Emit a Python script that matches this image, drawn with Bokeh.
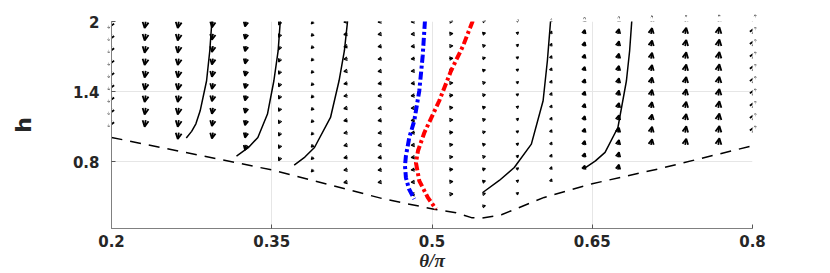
import math
from bokeh.plotting import figure
from bokeh.models import (Arrow, OpenHead, ColumnDataSource, Range1d, FixedTicker)
from bokeh.embed import file_html
from bokeh.resources import INLINE

# ---------------- data ----------------
x_ticks = [0.2, 0.35, 0.5, 0.65, 0.8]
x_tick_labels = ["0.2", "0.35", "0.5", "0.65", "0.8"]
y_ticks = [0.8, 1.4, 2.0]
y_tick_labels = ["0.8", "1.4", "2"]

# quiver grid
theta_cols = [0.200, 0.232, 0.263, 0.295, 0.326, 0.358, 0.389, 0.421, 0.453, 0.484,
              0.516, 0.547, 0.579, 0.611, 0.642, 0.674, 0.705, 0.737, 0.768, 0.800]
h_rows = [2.000, 1.894, 1.789, 1.683, 1.578, 1.472, 1.367, 1.261, 1.156, 1.050,
          0.944, 0.839, 0.733, 0.628, 0.522, 0.417]
lowest_row = [8, 8, 9, 9, 10, 11, 12, 13, 13, 14, 14, 15, 14, 13, 12, 12, 10, 10, 10, 9]
u_cols = [-0.003, -0.001, -0.001, -0.001, -0.001, -0.0015, -0.002, -0.0035, -0.0035, -0.0035,
          0.0035, 0.003, 0.002, 0.001, 0.001, 0.001, 0.001, 0.001, 0.001, 0.003]
v_cols = [-0.056, -0.056, -0.056, -0.050, -0.043, -0.030, -0.020, -0.006, -0.005, -0.003,
          0.003, 0.008, 0.015, 0.024, 0.034, 0.042, 0.049, 0.053, 0.056, 0.056]

# black solid trajectories
traj1_x = [0.270, 0.275, 0.279, 0.283, 0.289, 0.292, 0.294]
traj1_h = [1.003, 1.060, 1.125, 1.236, 1.493, 1.750, 2.006]
traj2_x = [0.317, 0.328, 0.337, 0.346, 0.352, 0.356, 0.358]
traj2_h = [0.849, 0.920, 1.008, 1.208, 1.493, 1.750, 2.006]
traj3_x = [0.371, 0.381, 0.390, 0.405, 0.413, 0.418, 0.421]
traj3_h = [0.772, 0.840, 0.922, 1.179, 1.493, 1.750, 2.006]
traj4_x = [0.5475, 0.563, 0.577, 0.593, 0.604, 0.608, 0.611]
traj4_h = [0.537, 0.640, 0.751, 0.951, 1.322, 1.664, 2.006]
traj5_x = [0.643, 0.653, 0.662, 0.674, 0.682, 0.685, 0.687]
traj5_h = [0.746, 0.808, 0.880, 1.093, 1.493, 1.750, 2.006]

# blue and red dash-dot curves
blue_x = [0.4934, 0.4913, 0.4881, 0.4834, 0.4787, 0.4756, 0.4747, 0.4756, 0.4784, 0.4834]
blue_h = [2.006, 1.707, 1.407, 1.151, 1.005, 0.851, 0.766, 0.663, 0.569, 0.481]
red_x = [0.5382, 0.5291, 0.5178, 0.5068, 0.4928, 0.4869, 0.4850, 0.4881, 0.4960, 0.5037]
red_h = [2.006, 1.792, 1.578, 1.322, 1.048, 0.894, 0.791, 0.637, 0.495, 0.395]

# dashed boundary
bound_x = [0.200, 0.3507, 0.4553, 0.5019, 0.5225, 0.537, 0.547, 0.565, 0.605, 0.650, 0.7116, 0.800]
bound_h = [1.008, 0.729, 0.481, 0.394, 0.364, 0.322, 0.318, 0.347, 0.495, 0.612, 0.738, 0.937]

# ---------------- figure ----------------
p = figure(width=830, height=273, x_range=Range1d(0.2, 0.8), y_range=Range1d(0.229, 2.0),
           output_backend="svg", toolbar_location=None,
           min_border_left=111, min_border_right=78, min_border_top=21, min_border_bottom=45)
p.outline_line_color = None
p.title.visible = False

p.xaxis.ticker = FixedTicker(ticks=x_ticks)
p.xaxis.major_label_overrides = {t: l for t, l in zip(x_ticks, x_tick_labels)}
p.yaxis.ticker = FixedTicker(ticks=y_ticks)
p.yaxis.major_label_overrides = {t: l for t, l in zip(y_ticks, y_tick_labels)}

for ax in (p.xaxis[0], p.yaxis[0]):
    ax.axis_line_color = "#808080"
    ax.axis_line_width = 1
    ax.major_tick_line_color = "#555555"
    ax.major_tick_in = 4
    ax.major_tick_out = 0
    ax.minor_tick_line_color = None
    ax.major_label_text_font = "DejaVu Sans"
    ax.major_label_text_font_style = "bold"
    ax.major_label_text_font_size = "15px"
    ax.major_label_text_color = "#262626"

p.xaxis.major_label_standoff = 6
p.xaxis.axis_label = "θ/π"
p.xaxis.axis_label_text_font = "Liberation Serif"
p.xaxis.axis_label_text_font_style = "bold italic"
p.xaxis.axis_label_text_font_size = "19px"
p.xaxis.axis_label_text_color = "#262626"
p.xaxis.axis_label_standoff = 0

p.yaxis.major_label_standoff = 12
p.yaxis.axis_label = "h"
p.yaxis.axis_label_text_font = "DejaVu Sans"
p.yaxis.axis_label_text_font_style = "bold"
p.yaxis.axis_label_text_font_size = "22px"
p.yaxis.axis_label_text_color = "#262626"
p.yaxis.axis_label_standoff = 34

p.grid.grid_line_color = "#e6e6e6"
p.grid.grid_line_width = 1
p.xgrid.ticker = FixedTicker(ticks=x_ticks)
p.ygrid.ticker = FixedTicker(ticks=y_ticks)

# ---------------- quiver arrows ----------------
for i, xc in enumerate(theta_cols):
    xs0, ys0, xs1, ys1 = [], [], [], []
    for k in range(lowest_row[i] + 1):
        xs0.append(xc)
        ys0.append(h_rows[k])
        xs1.append(xc + u_cols[i])
        ys1.append(h_rows[k] + v_cols[i])
    src = ColumnDataSource(dict(x0=xs0, y0=ys0, x1=xs1, y1=ys1))
    mag_px = math.hypot(u_cols[i] * 1066.7, v_cols[i] * 116.9)
    lw = 1.2 if mag_px < 4 else 1.8
    head = OpenHead(size=max(2.0, 0.9 * mag_px), line_width=lw, line_color="black")
    p.add_layout(Arrow(end=head, x_start="x0", y_start="y0", x_end="x1", y_end="y1",
                       source=src, line_width=lw, line_color="black", level="underlay"))

# ---------------- curves ----------------
p.line(bound_x, bound_h, line_color="black", line_width=1.5, line_dash="11 8")
for tx, th in [(traj1_x, traj1_h), (traj2_x, traj2_h), (traj3_x, traj3_h),
               (traj4_x, traj4_h), (traj5_x, traj5_h)]:
    p.line(tx, th, line_color="black", line_width=1.5)
p.line(blue_x, blue_h, line_color="#0000ff", line_width=4, line_dash="8 3 3 3")
p.line(red_x, red_h, line_color="#ff0000", line_width=4, line_dash="8 3 3 3")

open("out.html", "w").write(file_html(p, INLINE))
